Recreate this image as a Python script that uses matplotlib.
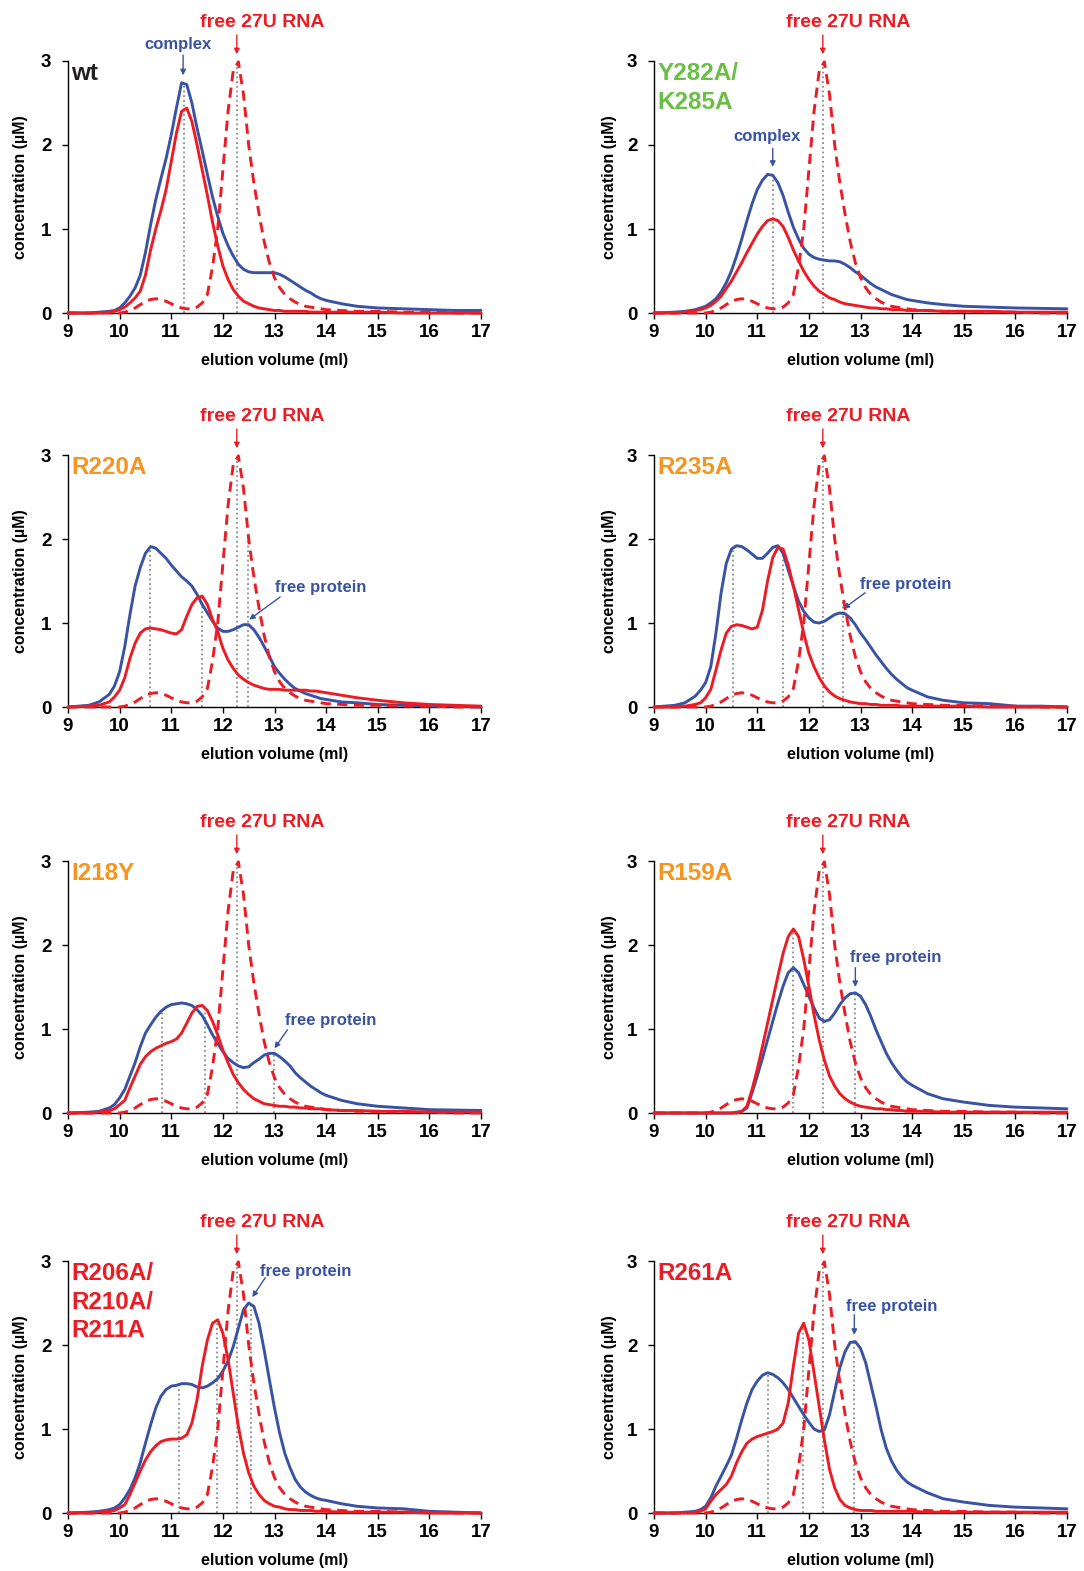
import numpy as np
import matplotlib
matplotlib.use("Agg")
import matplotlib.pyplot as plt

plt.rcParams['font.family'] = ['Liberation Sans', 'DejaVu Sans']
plt.rcParams['font.weight'] = 'bold'
plt.rcParams['axes.labelweight'] = 'bold'

# elution volume grid (ml) shared by all traces
X = [9.0, 9.4, 9.6, 9.8, 9.9,
     10.0, 10.1, 10.2, 10.3, 10.4, 10.5, 10.6, 10.7, 10.8, 10.9,
     11.0, 11.1, 11.2, 11.3, 11.4, 11.5, 11.6, 11.7, 11.8, 11.9,
     12.0, 12.1, 12.2, 12.3, 12.4, 12.5, 12.6, 12.7, 12.8, 12.9,
     13.0, 13.1, 13.2, 13.3, 13.4, 13.5, 13.6, 13.7, 13.8, 13.9,
     14.0, 14.3, 14.6, 15.0, 15.5, 16.0, 16.5, 17.0]

# free 27U RNA reference run (dashed, same in every panel)
rna_free = [0, 0, 0, 0, 0,
            0.0, 0.01, 0.03, 0.06, 0.10, 0.14, 0.16, 0.17, 0.16, 0.14,
            0.11, 0.08, 0.06, 0.05, 0.05, 0.07, 0.12, 0.22, 0.55, 1.00,
            1.70, 2.40, 2.88, 2.99, 2.60, 2.00, 1.55, 1.18, 0.85, 0.60,
            0.42, 0.30, 0.22, 0.17, 0.13, 0.10, 0.08, 0.07, 0.06, 0.05,
            0.04, 0.03, 0.02, 0.02, 0.01, 0.01, 0.0, 0.0]

# protein (blue) and RNA (red) traces of protein + RNA runs
wt_blue = [0.0, 0.0, 0.01, 0.02, 0.03,
           0.06, 0.12, 0.20, 0.30, 0.45, 0.72, 1.05, 1.35, 1.60, 1.84,
           2.12, 2.44, 2.74, 2.72, 2.50, 2.20, 1.93, 1.65, 1.38, 1.15,
           0.95, 0.80, 0.68, 0.58, 0.52, 0.49, 0.48, 0.48, 0.48, 0.48,
           0.48, 0.46, 0.43, 0.39, 0.35, 0.31, 0.27, 0.24, 0.20, 0.17,
           0.15, 0.11, 0.08, 0.06, 0.05, 0.04, 0.03, 0.03]
wt_red = [0, 0, 0, 0.01, 0.02,
          0.04, 0.07, 0.12, 0.18, 0.26, 0.45, 0.75, 1.00, 1.22, 1.47,
          1.80, 2.14, 2.40, 2.44, 2.28, 2.00, 1.70, 1.40, 1.08, 0.80,
          0.56, 0.40, 0.28, 0.20, 0.14, 0.11, 0.08, 0.06, 0.05, 0.04,
          0.03, 0.03, 0.02, 0.02, 0.02, 0.02, 0.02, 0.01, 0.01, 0.01,
          0.01, 0.01, 0.01, 0.01, 0.0, 0.0, 0.0, 0.0]

y282_blue = [0.0, 0.01, 0.02, 0.04, 0.06,
             0.08, 0.12, 0.17, 0.25, 0.36, 0.50, 0.68, 0.88, 1.10, 1.30,
             1.47, 1.58, 1.65, 1.64, 1.55, 1.40, 1.20, 1.02, 0.88, 0.77,
             0.70, 0.66, 0.64, 0.63, 0.62, 0.62, 0.61, 0.58, 0.54, 0.49,
             0.45, 0.40, 0.35, 0.31, 0.28, 0.25, 0.22, 0.20, 0.18, 0.16,
             0.15, 0.12, 0.10, 0.08, 0.07, 0.06, 0.055, 0.05]
y282_red = [0, 0, 0.01, 0.03, 0.04,
            0.06, 0.09, 0.14, 0.20, 0.29, 0.38, 0.49, 0.60, 0.72, 0.83,
            0.94, 1.03, 1.10, 1.12, 1.10, 1.03, 0.90, 0.75, 0.62, 0.50,
            0.40, 0.32, 0.26, 0.22, 0.18, 0.16, 0.13, 0.11, 0.10, 0.09,
            0.08, 0.07, 0.06, 0.06, 0.05, 0.05, 0.04, 0.04, 0.04, 0.03,
            0.03, 0.03, 0.02, 0.02, 0.02, 0.01, 0.01, 0.01]

r220_blue = [0.0, 0.02, 0.06, 0.15, 0.25,
             0.42, 0.72, 1.10, 1.44, 1.66, 1.83, 1.91, 1.89, 1.83, 1.77,
             1.69, 1.62, 1.55, 1.50, 1.44, 1.34, 1.22, 1.12, 1.02, 0.94,
             0.90, 0.90, 0.92, 0.95, 0.98, 0.98, 0.92, 0.83, 0.72, 0.60,
             0.48, 0.40, 0.33, 0.27, 0.22, 0.19, 0.16, 0.14, 0.12, 0.10,
             0.09, 0.06, 0.05, 0.03, 0.02, 0.01, 0.01, 0.0]
r220_red = [0.0, 0.01, 0.02, 0.06, 0.12,
            0.20, 0.35, 0.58, 0.76, 0.88, 0.93, 0.94, 0.93, 0.92, 0.90,
            0.88, 0.87, 0.92, 1.08, 1.22, 1.30, 1.32, 1.22, 1.04, 0.90,
            0.70, 0.56, 0.46, 0.38, 0.33, 0.29, 0.26, 0.24, 0.22, 0.21,
            0.21, 0.21, 0.20, 0.20, 0.20, 0.20, 0.20, 0.19, 0.19, 0.18,
            0.17, 0.14, 0.11, 0.08, 0.05, 0.03, 0.02, 0.01]

r235_blue = [0.0, 0.02, 0.05, 0.13, 0.20,
             0.29, 0.48, 0.88, 1.36, 1.71, 1.88, 1.92, 1.91, 1.87, 1.82,
             1.77, 1.77, 1.83, 1.90, 1.92, 1.83, 1.63, 1.44, 1.26, 1.14,
             1.06, 1.01, 1.00, 1.02, 1.06, 1.10, 1.12, 1.11, 1.06, 0.98,
             0.88, 0.80, 0.71, 0.62, 0.54, 0.46, 0.39, 0.33, 0.28, 0.23,
             0.20, 0.12, 0.08, 0.05, 0.04, 0.01, 0.01, 0.0]
r235_red = [0.0, 0.0, 0.01, 0.03, 0.05,
            0.11, 0.21, 0.44, 0.68, 0.88, 0.96, 0.98, 0.97, 0.95, 0.93,
            0.95, 1.15, 1.50, 1.78, 1.90, 1.88, 1.69, 1.44, 1.16, 0.88,
            0.64, 0.48, 0.35, 0.25, 0.18, 0.13, 0.10, 0.08, 0.06, 0.05,
            0.04, 0.04, 0.03, 0.03, 0.02, 0.02, 0.02, 0.02, 0.01, 0.01,
            0.01, 0.01, 0.01, 0.01, 0.0, 0.0, 0.0, 0.0]

i218_blue = [0.0, 0.01, 0.02, 0.06, 0.10,
             0.18, 0.28, 0.44, 0.60, 0.79, 0.95, 1.05, 1.14, 1.21, 1.26,
             1.29, 1.30, 1.31, 1.30, 1.28, 1.23, 1.16, 1.05, 0.93, 0.83,
             0.73, 0.65, 0.60, 0.56, 0.54, 0.55, 0.60, 0.64, 0.69, 0.71,
             0.71, 0.67, 0.62, 0.56, 0.48, 0.42, 0.37, 0.32, 0.28, 0.24,
             0.21, 0.15, 0.11, 0.08, 0.06, 0.04, 0.035, 0.03]
i218_red = [0.0, 0.0, 0.01, 0.03, 0.05,
            0.10, 0.15, 0.30, 0.44, 0.58, 0.67, 0.73, 0.77, 0.80, 0.83,
            0.85, 0.88, 0.95, 1.07, 1.19, 1.27, 1.28, 1.22, 1.09, 0.93,
            0.75, 0.60, 0.46, 0.36, 0.28, 0.22, 0.17, 0.14, 0.11, 0.10,
            0.09, 0.08, 0.08, 0.07, 0.07, 0.06, 0.06, 0.05, 0.05, 0.05,
            0.04, 0.03, 0.03, 0.02, 0.02, 0.01, 0.01, 0.01]

r159_blue = [0, 0, 0, 0, 0,
             0.0, 0.0, 0.0, 0.0, 0.0, 0.0, 0.01, 0.02, 0.06, 0.24,
             0.44, 0.65, 0.87, 1.09, 1.31, 1.51, 1.67, 1.73, 1.67, 1.53,
             1.39, 1.25, 1.13, 1.09, 1.11, 1.19, 1.29, 1.37, 1.42, 1.43,
             1.39, 1.29, 1.15, 0.99, 0.85, 0.71, 0.60, 0.51, 0.43, 0.37,
             0.33, 0.23, 0.17, 0.13, 0.09, 0.07, 0.06, 0.05]
r159_red = [0, 0, 0, 0, 0,
            0, 0, 0, 0, 0, 0, 0.0, 0.02, 0.08, 0.28,
            0.52, 0.79, 1.07, 1.35, 1.63, 1.90, 2.10, 2.19, 2.10, 1.83,
            1.51, 1.17, 0.87, 0.63, 0.44, 0.32, 0.23, 0.17, 0.13, 0.10,
            0.08, 0.07, 0.06, 0.05, 0.05, 0.04, 0.04, 0.03, 0.03, 0.02,
            0.02, 0.02, 0.01, 0.01, 0.01, 0.01, 0.01, 0.01]

r206_blue = [0.0, 0.01, 0.02, 0.04, 0.06,
             0.10, 0.18, 0.28, 0.42, 0.60, 0.83, 1.05, 1.25, 1.39, 1.47,
             1.51, 1.52, 1.54, 1.54, 1.53, 1.50, 1.49, 1.51, 1.55, 1.60,
             1.69, 1.81, 1.98, 2.20, 2.42, 2.50, 2.46, 2.26, 1.94, 1.59,
             1.25, 0.95, 0.71, 0.54, 0.40, 0.31, 0.25, 0.21, 0.18, 0.16,
             0.15, 0.11, 0.08, 0.06, 0.05, 0.02, 0.01, 0.0]
r206_red = [0.0, 0.0, 0.01, 0.02, 0.03,
            0.06, 0.10, 0.22, 0.36, 0.50, 0.63, 0.73, 0.80, 0.85, 0.87,
            0.88, 0.88, 0.89, 0.93, 1.07, 1.35, 1.75, 2.06, 2.26, 2.30,
            2.14, 1.83, 1.43, 1.03, 0.71, 0.48, 0.32, 0.22, 0.15, 0.11,
            0.08, 0.07, 0.05, 0.04, 0.04, 0.03, 0.03, 0.03, 0.02, 0.02,
            0.02, 0.01, 0.01, 0.01, 0.01, 0.0, 0.0, 0.0]

r261_blue = [0.0, 0.0, 0.01, 0.02, 0.04,
             0.08, 0.18, 0.32, 0.44, 0.56, 0.69, 0.89, 1.11, 1.31, 1.47,
             1.57, 1.64, 1.67, 1.65, 1.61, 1.55, 1.47, 1.37, 1.27, 1.17,
             1.08, 1.00, 0.97, 0.99, 1.17, 1.45, 1.73, 1.92, 2.03, 2.04,
             1.96, 1.79, 1.53, 1.27, 0.99, 0.77, 0.62, 0.51, 0.43, 0.37,
             0.33, 0.24, 0.17, 0.13, 0.09, 0.07, 0.06, 0.05]
r261_red = [0.0, 0.0, 0.0, 0.01, 0.02,
            0.05, 0.14, 0.22, 0.28, 0.34, 0.44, 0.60, 0.73, 0.83, 0.88,
            0.91, 0.93, 0.95, 0.97, 1.00, 1.07, 1.31, 1.75, 2.14, 2.26,
            2.06, 1.67, 1.27, 0.87, 0.52, 0.30, 0.16, 0.09, 0.06, 0.04,
            0.03, 0.03, 0.03, 0.02, 0.02, 0.02, 0.02, 0.02, 0.02, 0.02,
            0.02, 0.01, 0.01, 0.01, 0.01, 0.01, 0.01, 0.01]

# peak positions marked with grey dotted lines (ml)
wt_peaks = [11.25, 12.27]
y282_peaks = [11.30, 12.27]
r220_peaks = [10.59, 11.60, 12.27, 12.49]
r235_peaks = [10.53, 11.50, 12.27, 12.67]
i218_peaks = [10.82, 11.65, 12.27, 12.99]
r159_peaks = [11.70, 12.27, 12.90]
r206_peaks = [11.15, 11.88, 12.27, 12.54]
r261_peaks = [11.21, 11.89, 12.27, 12.88]

names = ["wt", "Y282A/\nK285A", "R220A", "R235A", "I218Y", "R159A",
         "R206A/\nR210A/\nR211A", "R261A"]

BLUE = '#3953a4'
RED = '#ed1c24'
GREEN = '#6abd45'
ORANGE = '#f7941d'
name_colors = ['#231f20', GREEN, ORANGE, ORANGE, ORANGE, ORANGE, RED, RED]

blues = [wt_blue, y282_blue, r220_blue, r235_blue, i218_blue, r159_blue, r206_blue, r261_blue]
reds = [wt_red, y282_red, r220_red, r235_red, i218_red, r159_red, r206_red, r261_red]
peaks = [wt_peaks, y282_peaks, r220_peaks, r235_peaks, i218_peaks, r159_peaks, r206_peaks, r261_peaks]

# protein label: text, text position, arrow start, arrow end
protein_notes = [
    ("complex", (11.13, 3.20), (11.23, 3.07), (11.23, 2.83)),
    ("complex", (11.19, 2.10), (11.30, 1.96), (11.30, 1.74)),
    ("free protein", (13.90, 1.42), (13.11, 1.31), (12.51, 1.04)),
    ("free protein", (13.87, 1.46), (13.09, 1.36), (12.67, 1.17)),
    ("free protein", (14.08, 1.10), (13.25, 0.99), (13.00, 0.77)),
    ("free protein", (13.68, 1.85), (12.90, 1.73), (12.90, 1.50)),
    ("free protein", (13.61, 2.88), (12.82, 2.80), (12.57, 2.57)),
    ("free protein", (13.60, 2.46), (12.88, 2.36), (12.88, 2.12)),
]

W, H = 1084, 1571
fig = plt.figure(figsize=(W / 100, H / 100), dpi=100)
col_left = [68, 654]
row_zero = [313, 707, 1113, 1513]

for i in range(8):
    row, col = divmod(i, 2)
    ax = fig.add_axes([col_left[col] / W, 1 - row_zero[row] / H, 413 / W, 252 / H])
    ax.set_xlim(9, 17)
    ax.set_ylim(0, 3)

    blue = np.array(blues[i])
    red = np.array(reds[i])
    rna = np.array(rna_free)

    for px in peaks[i]:
        top = max(np.interp(px, X, blue), np.interp(px, X, red), np.interp(px, X, rna))
        ax.plot([px, px], [0, top], color='#8c8c8c', lw=1.3, ls=(0, (1, 1.6)), zorder=1)

    ax.plot(X, blue, color=BLUE, lw=2.1, clip_on=False, zorder=3,
            solid_capstyle='round', solid_joinstyle='round')
    ax.plot(X, red, color=RED, lw=2.1, clip_on=False, zorder=4,
            solid_capstyle='round', solid_joinstyle='round')
    ax.plot(X, rna, color=RED, lw=2.1, ls=(0, (3.5, 2.2)), clip_on=False, zorder=5,
            dash_joinstyle='round')

    # free RNA label
    ax.text(12.76, 3.46, "free 27U RNA", color=RED, fontsize=14, ha='center', va='center')
    ax.annotate('', xy=(12.27, 3.08), xytext=(12.27, 3.31), annotation_clip=False,
                arrowprops=dict(arrowstyle='-|>', color=RED, lw=1, mutation_scale=8,
                                shrinkA=0, shrinkB=0))

    txt, tpos, a0, a1 = protein_notes[i]
    ax.text(tpos[0], tpos[1], txt, color=BLUE, fontsize=12, ha='center', va='center')
    ax.annotate('', xy=a1, xytext=a0, annotation_clip=False,
                arrowprops=dict(arrowstyle='-|>', color=BLUE, lw=1, mutation_scale=8,
                                shrinkA=0, shrinkB=0))

    ax.text(0.008, 0.995, names[i], transform=ax.transAxes, color=name_colors[i],
            fontsize=17.5, ha='left', va='top', linespacing=1.3)

    for s in ['top', 'right']:
        ax.spines[s].set_visible(False)
    for s in ['left', 'bottom']:
        ax.spines[s].set_linewidth(1.0)
    ax.set_xticks(range(9, 18))
    ax.set_yticks([0, 1, 2, 3])
    ax.tick_params(axis='both', direction='out', length=4, width=1, labelsize=13.5)
    ax.tick_params(axis='x', pad=4)
    ax.tick_params(axis='y', pad=8)

    ax.set_xlabel("elution volume (ml)", fontsize=11.5, va='center')
    ax.xaxis.set_label_coords(0.5, -0.19)
    ax.set_ylabel("concentration (\u00b5M)", fontsize=11.5, va='center')
    ax.yaxis.set_label_coords(-0.116 if col == 0 else -0.107, 0.5)

fig.savefig("out.png", dpi=100, facecolor='white')
